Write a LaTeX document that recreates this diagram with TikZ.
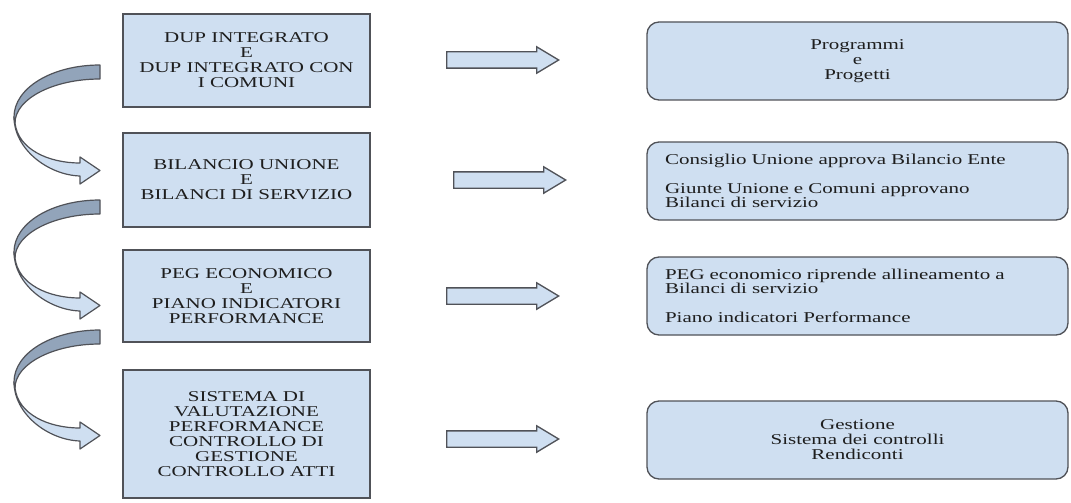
\documentclass[tikz,border=0pt]{standalone}
\usepackage{fontspec}
\setmainfont{Liberation Serif}[FakeStretch=1.4]
\usetikzlibrary{shapes.arrows,positioning}
\definecolor{colFondo}{RGB}{207,223,241}
\definecolor{colBordo}{RGB}{80,82,88}
\definecolor{colRetro}{RGB}{146,164,186}
\definecolor{colTesto}{RGB}{30,30,30}

\begin{document}
\begin{tikzpicture}[x=0.75pt, y=-0.75pt,
    font=\fontsize{11.25}{11.25}\selectfont, text=colTesto,
    fase/.style={rectangle, draw=colBordo, fill=colFondo, line width=1pt,
      align=center, minimum width=185.25pt, inner sep=2pt},
    esito/.style={rectangle, rounded corners=9pt, draw=colBordo,
      fill=colFondo, line width=1pt, minimum width=315.75pt,
      minimum height=58.5pt, inner xsep=13.5pt,
      font=\fontsize{11.25}{10.5}\selectfont},
    centro/.style={align=center, font=\fontsize{11.25}{11.25}\selectfont},
    freccia/.style={single arrow, draw=colBordo, fill=colFondo,
      line width=1pt, anchor=tail, minimum height=84pt,
      inner xsep=0pt, inner ysep=5.625pt,
      single arrow head extend=3.75pt, single arrow tip angle=62},
    giro/.style={draw=colBordo, line width=0.9pt, line join=round}]
    \useasboundingbox (0,0) rectangle (1071,503);

    % fasi a sinistra
    \node[fase, minimum height=69.75pt] (dup) at (246.5,60.5)
      {DUP INTEGRATO\\ E\\ DUP INTEGRATO CON\\ I COMUNI};
    \node[fase, minimum height=70.5pt] (bil) at (246.5,180)
      {BILANCIO UNIONE\\ E\\ BILANCI DI SERVIZIO};
    \node[fase, minimum height=69pt] (peg) at (246.5,296)
      {PEG ECONOMICO\\ E\\ PIANO INDICATORI\\ PERFORMANCE};
    \node[fase, minimum height=96pt] (sis) at (246.5,434)
      {SISTEMA DI\\ VALUTAZIONE\\ PERFORMANCE\\ CONTROLLO DI\\ GESTIONE\\
      CONTROLLO ATTI};

    % esiti a destra
    \node[esito, centro] (prog) at (857.5,61)
      {Programmi\\ e\\ Progetti};
    \node[esito, text width=288.75pt, align=left] (cons) at (857.5,181)
      {Consiglio Unione approva Bilancio Ente\\[11pt]
      Giunte Unione e Comuni approvano\\ Bilanci di servizio};
    \node[esito, text width=288.75pt, align=left] (allin) at (857.5,296)
      {PEG economico riprende allineamento a\\ Bilanci di servizio\\[11pt]
      Piano indicatori Performance};
    \node[esito, centro] (gest) at (857.5,440)
      {Gestione\\ Sistema dei controlli\\ Rendiconti};

    % frecce
    \node[freccia] (f1) at (446,60) {};
    \node[freccia] (f2) at (453,180) {};
    \node[freccia] (f3) at (446,296) {};
    \node[freccia] (f4) at (446,439) {};

    % frecce curve
    \foreach \yy in {65,200,330} {
      \begin{scope}[shift={(0,\yy)}]
        \filldraw[giro, fill=colFondo] (15,58) .. controls (18,84) and (48,98)
          .. (80,98) -- (80,92) -- (100,105.5) -- (80,119) -- (80,111)
          .. controls (48,110) and (14,84) .. (14,52) -- cycle;
        \filldraw[giro, fill=colRetro] (100,0) -- (100,14)
          .. controls (53,14) and (15,34) .. (15,58) -- (14,52)
          .. controls (14,23) and (52,0) .. (100,0) -- cycle;
      \end{scope}
    }
  \end{tikzpicture}
\end{document}
